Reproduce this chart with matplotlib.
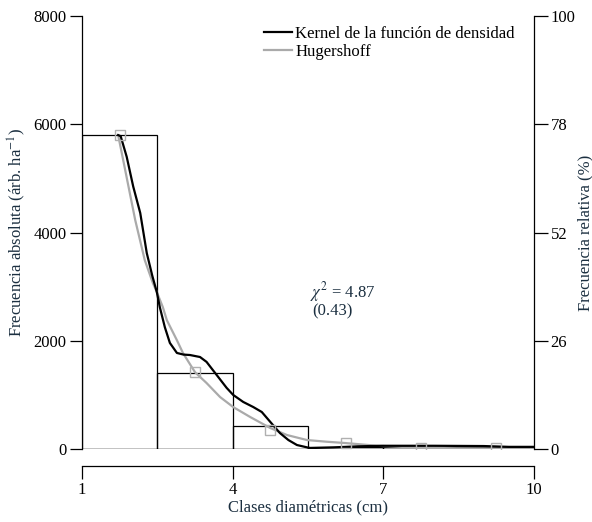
import numpy as np
import matplotlib.pyplot as plt

plt.rcParams["font.family"] = ["Liberation Serif", "DejaVu Serif"]
plt.rcParams["mathtext.fontset"] = "stix"

# diameter classes (cm) and absolute frequency (trees/ha)
class_left = [1.0, 2.5, 4.0, 5.5, 7.0, 8.5]
class_width = 1.5
freq_abs = [5800, 1400, 425, 40, 30, 30]

# kernel density curve
kernel_x = [1.72, 1.77, 1.89, 2.02, 2.16, 2.29, 2.40, 2.49, 2.55, 2.65, 2.75, 2.89,
            3.02, 3.15, 3.35, 3.48, 3.68, 3.88, 4.01, 4.21, 4.41, 4.58, 4.75, 4.94,
            5.11, 5.28, 5.54, 6.0, 6.5, 7.0, 8.0, 9.0, 9.5, 10.0]
kernel_y = [5800, 5780, 5400, 4850, 4360, 3620, 3200, 2900, 2620, 2250, 1960, 1775,
            1745, 1737, 1700, 1610, 1370, 1130, 1000, 870, 776, 684, 500, 296,
            166, 74, 18, 30, 50, 60, 60, 55, 40, 40]

# Hugershoff fit
hug_x = [1.72, 1.82, 2.06, 2.25, 2.41, 2.49, 2.61, 2.69, 2.89, 3.01, 3.25, 3.48,
         3.75, 4.01, 4.35, 4.75, 5.08, 5.48, 5.87, 6.25, 6.87, 7.73, 8.46, 9.25, 10.0]
hug_y = [5800, 5340, 4230, 3490, 3070, 2900, 2620, 2380, 2010, 1775, 1420, 1220,
         960, 776, 591, 388, 259, 166, 135, 110, 61, 24, 13, 10, 8]

# class marks
mark_x = [1.75, 3.25, 4.75, 6.25, 7.75, 9.25]
mark_y = [5800, 1420, 360, 110, 20, 10]

left_ticks = [0, 2000, 4000, 6000, 8000]
right_labels = ["0", "26", "52", "78", "100"]
x_ticks = [1, 4, 7, 10]

label_color = "#1b2f40"

fig = plt.figure(figsize=(5.92, 5.22), dpi=100)
ax = fig.add_axes([0.1385, 0.1398, 0.7635, 0.8295])

ax.bar(class_left, freq_abs, width=class_width, align="edge",
       facecolor="none", edgecolor="black", linewidth=0.9, zorder=2)
ax.plot(kernel_x, kernel_y, color="black", lw=1.6, zorder=4,
        label="Kernel de la función de densidad")
ax.plot(hug_x, hug_y, color="#aaaaaa", lw=1.6, zorder=3, label="Hugershoff")
ax.plot(mark_x, mark_y, ls="none", marker="s", ms=6.5, mfc="none",
        mec="#b0b0b0", mew=1.0, zorder=5)
ax.axhline(0, color="black", lw=0.9, zorder=2)

ax.set_xlim(1, 10)
ax.set_ylim(0, 8000)
ax.set_xticks(x_ticks)
ax.set_yticks(left_ticks)
ax.spines["top"].set_visible(False)
ax.spines["right"].set_visible(False)
ax.spines["bottom"].set_position(("outward", 12))
for s in ["left", "bottom"]:
    ax.spines[s].set_linewidth(0.9)
ax.tick_params(axis="y", direction="out", length=9, width=0.9, labelsize=12, pad=2)
ax.tick_params(axis="x", direction="out", length=9, width=0.9, labelsize=12, pad=3)
ax.set_xlabel("Clases diamétricas (cm)", fontsize=12, color=label_color, labelpad=1)
ax.set_ylabel("Frecuencia absoluta (árb. ha$^{-1}$)", fontsize=12,
              color=label_color, labelpad=4)

ax2 = ax.twinx()
ax2.set_ylim(0, 8000)
ax2.set_yticks(left_ticks)
ax2.set_yticklabels(right_labels)
for s in ["top", "left", "bottom"]:
    ax2.spines[s].set_visible(False)
ax2.spines["right"].set_linewidth(0.9)
ax2.tick_params(axis="y", direction="out", length=10, width=0.9, labelsize=12, pad=2)
ax2.set_ylabel("Frecuencia relativa (%)", fontsize=12, color=label_color, labelpad=1)

ax.text(6.2, 2900, r"$\chi^2$ = 4.87", fontsize=12, color=label_color,
        ha="center", va="center")
ax.text(5.98, 2540, "(0.43)", fontsize=12, color=label_color,
        ha="center", va="center")

ax.legend(loc="upper left", bbox_to_anchor=(0.38, 1.0), frameon=False,
          fontsize=12, handlelength=1.7, handletextpad=0.2,
          labelspacing=0.1, borderaxespad=0.2)

fig.savefig("out.png", dpi=100)
